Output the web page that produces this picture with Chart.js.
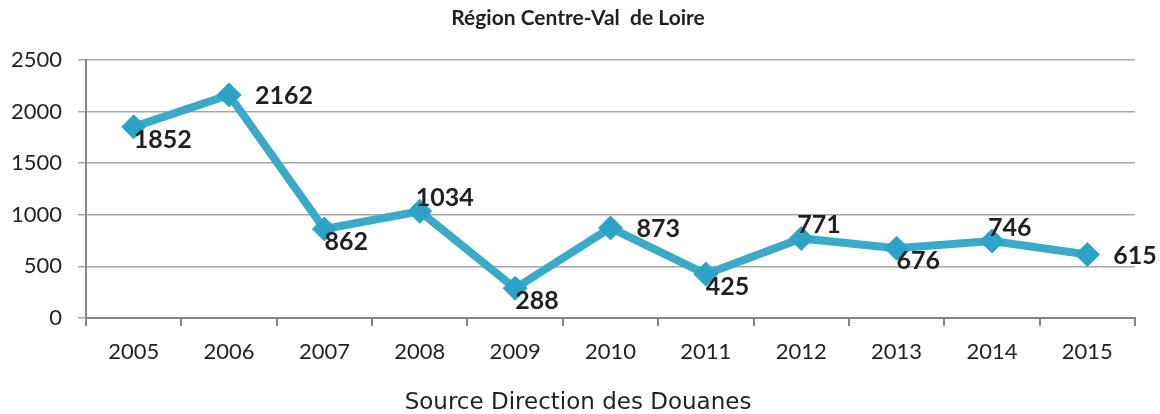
<!DOCTYPE html>
<html>
<head>
<meta charset="utf-8">
<script src="https://cdn.jsdelivr.net/npm/chart.js@4"></script>
<style>
  html, body { margin: 0; padding: 0; background: #fff; }
  #wrap { width: 1160px; height: 414px; }
</style>
</head>
<body>
<div id="wrap"><canvas id="myChart"></canvas></div>
<script>
const years = ['2005', '2006', '2007', '2008', '2009', '2010', '2011', '2012', '2013', '2014', '2015'];
const values = [1852, 2162, 862, 1034, 288, 873, 425, 771, 676, 746, 615];
const yTicks = [0, 500, 1000, 1500, 2000, 2500];
// where each value label sits next to its point
const labelSide = ['below', 'right', 'below', 'above', 'below', 'right', 'below', 'above', 'below', 'above', 'right'];
const titleText = 'Région Centre-Val  de Loire';
const sourceText = 'Source Direction des Douanes';

const ctx = document.getElementById('myChart');

const valueLabels = {
  id: 'valueLabels',
  afterDatasetsDraw(chart) {
    const c = chart.ctx;
    const meta = chart.getDatasetMeta(0);
    c.save();
    c.font = 'bold 25px Lato';
    c.fillStyle = '#231f20';
    c.textAlign = 'left';
    c.textBaseline = 'middle';
    meta.data.forEach((pt, i) => {
      let dx = 0, dy = 13;
      if (labelSide[i] === 'right') { dx = 26; dy = 1; }
      if (labelSide[i] === 'above') { dx = -4; dy = -13; }
      c.fillText(String(values[i]), pt.x + dx, pt.y + dy);
    });
    c.restore();
  }
};

// title and source line, centred on the whole picture
const captions = {
  id: 'captions',
  afterDraw(chart) {
    const c = chart.ctx;
    const mid = chart.width / 2 - 2;
    c.save();
    c.fillStyle = '#231f20';
    c.textAlign = 'center';
    c.textBaseline = 'middle';
    c.font = 'bold 21px Lato';
    c.fillText(titleText, mid, 18);
    c.font = '23px "DejaVu Sans"';
    c.fillText(sourceText, mid, 403);
    c.restore();
  }
};

new Chart(ctx, {
  type: 'line',
  data: {
    labels: years,
    datasets: [{
      data: values,
      borderColor: '#3aaac8',
      borderWidth: 8,
      pointStyle: 'rectRot',
      pointRadius: 12,
      pointBackgroundColor: '#2ba3c6',
      pointBorderColor: '#2ba3c6',
      pointBorderWidth: 1,
      tension: 0
    }]
  },
  plugins: [valueLabels, captions],
  options: {
    responsive: true,
    maintainAspectRatio: false,
    animation: false,
    layout: { padding: { left: 0, right: 25, top: 60, bottom: 34 } },
    plugins: {
      legend: { display: false },
      tooltip: { enabled: false },
      title: { display: false }
    },
    scales: {
      x: {
        offset: true,
        grid: { offset: true, drawOnChartArea: false, drawTicks: true, tickLength: 8, color: '#868686', lineWidth: 2 },
        border: { color: '#868686', width: 2 },
        ticks: { font: { family: 'Lato', size: 22 }, color: '#231f20', padding: 13 },
        afterFit(scale) { scale.height = 62; }
      },
      y: {
        min: 0,
        max: 2500,
        afterBuildTicks(scale) { scale.ticks = yTicks.map(v => ({ value: v })); },
        grid: { color: '#a6a6a6', lineWidth: 1.5, tickLength: 8, drawTicks: true },
        border: { color: '#868686', width: 2 },
        ticks: {
          font: { family: 'Lato', size: 22 },
          color: '#231f20',
          padding: 16,
          callback: v => String(v)
        },
        afterFit(scale) { scale.width = 86; }
      }
    }
  }
});
</script>
</body>
</html>
